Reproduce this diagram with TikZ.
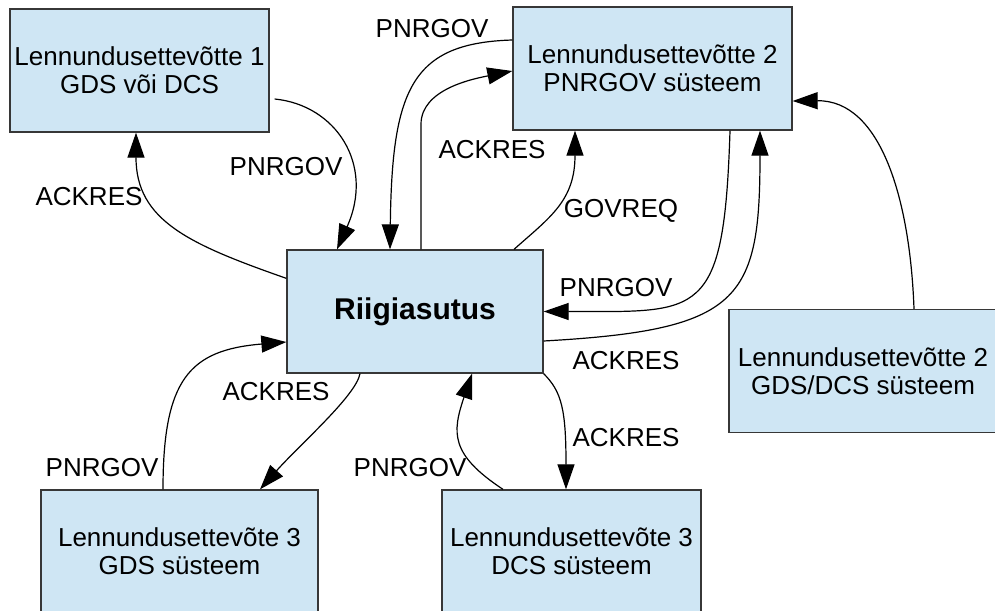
\documentclass[tikz,border=0pt]{standalone}
\usepackage{fontspec}
\setmainfont{Liberation Sans}
\usepackage{tikz}
\usetikzlibrary{arrows.meta}
\definecolor{boxblue}{RGB}{207,230,244}
\definecolor{boxline}{RGB}{55,55,55}

\begin{document}
\begin{tikzpicture}[x=0.5pt, y=-0.5pt,
        box/.style={draw=boxline, line width=0.65pt, fill=boxblue, minimum height=61.5pt,
            inner sep=0pt, align=center, font=\fontsize{13}{14}\selectfont},
        lbl/.style={inner sep=0pt, font=\fontsize{13}{14}\selectfont},
        arr/.style={-{Triangle[length=12.5pt,width=8.5pt]}, line width=0.6pt}]
    \useasboundingbox (0,0) rectangle (995,610);

    \node[box, minimum width=129.5pt] (lenA) at (139.5,70.5) {Lennundusettevõtte 1\\GDS või DCS};
    \node[box, minimum width=139.5pt] (lenB) at (652.5,68.5) {Lennundusettevõtte 2\\PNRGOV süsteem};
    \node[box, minimum width=128pt, font=\fontsize{15}{16}\selectfont\bfseries] (riik) at (415,311.5) {Riigiasutus};
    \node[box, minimum width=134pt] (lenD) at (863,371) {Lennundusettevõtte 2\\GDS/DCS süsteem};
    \node[box, minimum width=138.5pt] (gds3) at (179.5,551.5) {Lennundusettevõte 3\\GDS süsteem};
    \node[box, minimum width=129.5pt] (dcs3) at (571.5,551.5) {Lennundusettevõte 3\\DCS süsteem};

    \node[lbl] (pnrA) at (286,167) {PNRGOV};
    \node[lbl] (ackA) at (89,197) {ACKRES};
    \node[lbl] (pnrB) at (432,29) {PNRGOV};
    \node[lbl] (ackB) at (492,150) {ACKRES};
    \node[lbl] (govB) at (621,211) {GOVREQ};
    \node[lbl] (pnrR) at (616,288) {PNRGOV};
    \node[lbl] (ackR) at (626,361) {ACKRES};
    \node[lbl] (ackF) at (626,438) {ACKRES};
    \node[lbl] (ackE) at (276,392) {ACKRES};
    \node[lbl] (pnrE) at (102,468) {PNRGOV};
    \node[lbl] (pnrF) at (410,468) {PNRGOV};

    \draw[arr] ([shift={(5,28.5)}]lenA.east) .. controls +(61,6) and +(38,-85) .. ([shift={(-78,0)}]riik.north);
    \draw[arr] ([shift={(0,29)}]riik.north west) .. controls +(-97,-34) and +(0,88) .. ([shift={(-3.5,0)}]lenA.south);
    \draw[arr] ([shift={(0,-28.5)}]lenB.west) .. controls +(-101,3) and +(2,-160) .. ([shift={(-25,0)}]riik.north);
    \draw[arr] ([shift={(6,0)}]riik.north) -- ++(0,-125) .. controls +(0,-35) and +(-40,8) .. ([shift={(0,2.5)}]lenB.west);
    \draw[arr] ([shift={(99,0)}]riik.north) .. controls +(36,-32) and +(0,70) .. ([shift={(-77.5,0)}]lenB.south);
    \draw[arr] ([shift={(77.5,0)}]lenB.south) .. controls +(-6,190) and +(157,0) .. (riik.east);
    \draw[arr] ([shift={(0,29.5)}]riik.east) .. controls +(197,-11) and +(0,170) .. ([shift={(107.5,0)}]lenB.south);
    \draw[arr] ([shift={(51,0)}]lenD.north) .. controls +(-4,-110) and +(88,-1) .. ([shift={(0,32.5)}]lenB.east);
    \draw[arr] ([shift={(-16.5,0)}]gds3.north) .. controls +(0,-110) and +(-97,8) .. ([shift={(0,30.5)}]riik.west);
    \draw[arr] ([shift={(-55,0)}]riik.south) .. controls +(-4,22) and +(40,-45) .. ([shift={(80.5,0)}]gds3.north);
    \draw[arr] ([shift={(-68.5,0)}]dcs3.north) .. controls +(-53,-35) and +(-20,59) .. ([shift={(57,0)}]riik.south);
    \draw[arr] (riik.south east) .. controls +(18,18) and +(0,-80) .. ([shift={(-5.5,0)}]dcs3.north);
\end{tikzpicture}
\end{document}
